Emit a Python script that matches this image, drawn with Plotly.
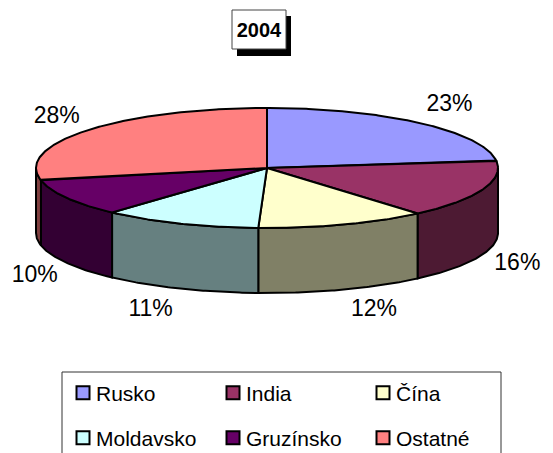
import math
import plotly.graph_objects as go

# ---- data ----
categories = ["Rusko", "India", "Čína", "Moldavsko", "Gruzínsko", "Ostatné"]
shares = [23.0, 15.7, 11.9, 11.1, 10.0, 28.3]
title_text = "2004"

# ---- styles ----
top_colors = ["#9999FF", "#993366", "#FFFFCC", "#CCFFFF", "#660066", "#FF8080"]
side_colors = ["#4D4D80", "#4D1A33", "#808066", "#668080", "#330033", "#804040"]
FONT = "Liberation Sans, Arial, sans-serif"

# ---- layout geometry (pixels of the 553x453 page) ----
W, H = 553, 453
MARGIN_B = 100           # reserved for the legends; keeps the plot area a fixed size
PLOT_H = H - MARGIN_B
CX, CY, RX, RY, DEPTH = 267, 168, 231, 60, 65
OUT = dict(color="black", width=2)
label_nudge_x = [0, 2, 5, 3, 0, 0]
label_nudge_y = [-2, 2, 0, 2, 3, 1]


def pt(theta, dy=0.0):
    return CX + RX * math.sin(theta), CY - RY * math.cos(theta) + dy


def arc(a, b, dy=0.0):
    n = max(2, int(abs(b - a) / 0.01))
    return [pt(a + (b - a) * i / n, dy) for i in range(n + 1)]


total = sum(shares)
edges = [0.0]
for s in shares:
    edges.append(edges[-1] + s / total * 2 * math.pi)

fig = go.Figure()

# visible wall: the front half of the disc
for i, name in enumerate(categories):
    a, b = max(edges[i], math.pi / 2), min(edges[i + 1], 1.5 * math.pi)
    if b <= a:
        continue
    pts = arc(a, b) + arc(b, a, DEPTH)
    pts.append(pts[0])
    fig.add_trace(go.Scatter(x=[p[0] for p in pts], y=[p[1] for p in pts], mode="lines",
                             fill="toself", fillcolor=side_colors[i], line=OUT,
                             hoverinfo="skip", showlegend=False))

# top face
for i, name in enumerate(categories):
    pts = [(CX, CY)] + arc(edges[i], edges[i + 1]) + [(CX, CY)]
    fig.add_trace(go.Scatter(x=[p[0] for p in pts], y=[p[1] for p in pts], mode="lines",
                             fill="toself", fillcolor=top_colors[i], line=OUT,
                             name=name, hoverinfo="name", showlegend=False))

# percent labels
lx, ly, lt = [], [], []
for i, s in enumerate(shares):
    m = (edges[i] + edges[i + 1]) / 2
    sn, cs = math.sin(m), math.cos(m)
    lx.append(CX + 1.05 * RX * sn + math.copysign(22 + label_nudge_x[i], sn))
    ly.append(CY - 1.36 * RY * cs + (DEPTH if cs < 0 else 0) + label_nudge_y[i])
    lt.append(f"{round(s / total * 100)}%")
fig.add_trace(go.Scatter(x=lx, y=ly, mode="text", text=lt, textposition="middle center",
                         textfont=dict(family=FONT, size=23, color="black"),
                         hoverinfo="skip", showlegend=False))

# legend keys (two legends, one per row)
for i, name in enumerate(categories):
    fig.add_trace(go.Scatter(x=[None], y=[None], mode="markers", name=name,
                             legend="legend" if i < 3 else "legend2",
                             marker=dict(symbol="square", size=13, color=top_colors[i],
                                         line=dict(color="black", width=2))))

legend_common = dict(orientation="h", xanchor="left", yanchor="middle", x=56 / W,
                     xref="container", yref="container",
                     entrywidth=105, entrywidthmode="pixels", bgcolor="rgba(0,0,0,0)",
                     borderwidth=0, font=dict(family=FONT, size=21, color="black"),
                     traceorder="normal")

fig.update_layout(
    width=W, height=H, autosize=False,
    margin=dict(l=0, r=0, t=0, b=MARGIN_B),
    paper_bgcolor="white", plot_bgcolor="white",
    xaxis=dict(visible=False, range=[0, W], fixedrange=True),
    yaxis=dict(visible=False, range=[PLOT_H, 0], fixedrange=True),
    legend=dict(legend_common, y=1 - 393 / H),
    legend2=dict(legend_common, y=1 - 438 / H),
    title=dict(text=f"<b>{title_text}</b>", x=259 / W, xanchor="center",
               y=1 - 30 / H, yanchor="middle",
               font=dict(family=FONT, size=20, color="black")),
    shapes=[
        dict(type="rect", xref="x", yref="y", x0=237, y0=16, x1=291, y1=56,
             fillcolor="black", line=dict(width=0), layer="below"),
        dict(type="rect", xref="x", yref="y", x0=232, y0=10, x1=286, y1=49,
             fillcolor="white", line=dict(color="#444444", width=1), layer="below"),
        dict(type="rect", xref="paper", yref="paper", x0=62 / W, x1=501 / W,
             y0=1 - 372 / PLOT_H, y1=1 - 480 / PLOT_H,
             fillcolor="rgba(0,0,0,0)", line=dict(color="#333333", width=1), layer="below"),
    ],
)

post = ("document.body.style.margin='0';document.body.style.overflow='hidden';"
        "document.querySelectorAll('.legendsymbols').forEach("
        "function(e){e.setAttribute('transform','translate(7,0)');});")
fig.write_html("out.html", config=dict(displayModeBar=False), post_script=post)
